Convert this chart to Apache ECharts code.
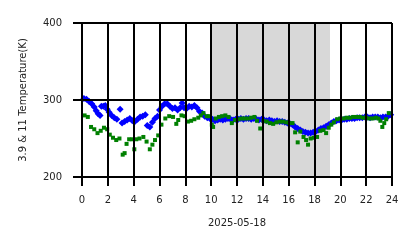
<!DOCTYPE html>
<html>
<head>
<meta charset="utf-8">
<script src="https://cdn.jsdelivr.net/npm/echarts@6/dist/echarts.min.js"></script>
<style>html,body{margin:0;padding:0;background:#fff}#c{width:418px;height:248px}</style>
</head>
<body>
<div id="c"></div>
<script>
var xTicks = [0,2,4,6,8,10,12,14,16,18,20,22,24];
var yTicks = [200,300,400];
var dateLabel = '2025-05-18';
var yName = '3.9 & 11 Temperature(K)';
var shadeStart = 10.0, shadeEnd = 19.2;

var blueT = [0.15,0.35,0.55,0.75,0.95,1.1,1.25,1.4,1.5,1.65,1.8,1.95,2.1,2.3,2.5,2.7,2.95,3.1,3.3,3.5,3.7,3.9,4.1,4.3,4.5,4.7,4.9,5.05,5.25,5.45,5.65,5.85,6.0,6.2,6.4,6.6,6.8,7.0,7.2,7.4,7.6,7.75,7.9,8.1,8.3,8.5,8.7,8.9,9.1,9.3,9.5,
  9.7,9.9,10.1,10.3,10.5,10.7,10.9,11.1,11.3,11.5,11.7,11.9,12.1,12.3,12.5,12.7,12.9,13.1,13.3,13.5,13.7,13.9,14.1,14.3,14.5,14.7,14.9,15.1,15.3,15.5,15.7,15.9,16.1,16.3,16.5,16.7,16.9,17.1,17.3,17.5,17.7,17.9,18.1,18.3,18.5,18.7,18.9,19.1,19.3,19.5,19.7,19.9,20.1,20.3,20.5,20.7,20.9,21.1,21.3,21.5,21.7,21.9,22.1,22.3,22.5,22.7,22.9,23.1,23.3,23.5,23.7,23.9];
var blueV = [302,301,298,295,291,286,282,280,292,292,293,288,284,280,277,275,288,270,272,274,276,273,272,275,278,279,281,267,265,271,276,279,287,292,295,295,292,289,290,287,290,296,290,289,292,291,293,290,285,283,279,
  277,276,275,273,274,275,274,275,276,275,274,275,275,276,275,276,276,275,276,275,274,275,274,273,274,273,272,273,272,272,271,270,269,268,265,263,261,259,258,257,257,258,259,261,263,264,266,268,270,272,273,274,274,275,275,276,276,276,277,277,277,278,278,277,278,278,278,277,278,278,279,281,283];

var greenT = [0.2,0.45,0.7,0.95,1.2,1.45,1.7,1.95,2.15,2.4,2.65,2.9,3.15,3.3,3.45,3.65,3.9,4.05,4.2,4.45,4.75,5.0,5.25,5.45,5.65,5.9,6.15,6.45,6.75,7.05,7.3,7.45,7.7,7.95,8.2,8.45,8.7,9.0,9.2,9.4,9.65,
  9.85,10.05,10.15,10.35,10.6,10.85,11.1,11.35,11.6,11.85,12.1,12.35,12.6,12.85,13.1,13.35,13.55,13.8,14.05,14.3,14.55,14.8,15.05,15.3,15.55,15.8,16.05,16.3,16.5,16.7,16.9,17.15,17.35,17.5,17.7,17.95,18.2,18.45,18.7,18.9,19.1,19.3,19.5,19.75,20.0,20.25,20.5,20.75,21.0,21.25,21.5,21.75,22.0,22.25,22.5,22.75,22.95,23.1,23.25,23.4,23.55,23.75];
var greenV = [280,278,265,262,257,260,264,262,255,251,248,250,229,231,243,249,249,236,249,250,252,246,236,242,248,254,268,276,279,278,269,274,280,279,272,273,275,277,280,283,279,
  279,268,265,276,278,279,280,278,270,274,275,276,276,276,277,278,273,263,273,272,270,269,271,272,272,271,270,270,258,245,259,252,248,242,250,251,252,260,261,257,264,268,271,275,276,276,277,277,278,278,278,277,277,276,276,277,276,273,265,270,275,283];

function pairs(t, v){ return t.map(function(x,i){ return [x, v[i]]; }); }

var chart = echarts.init(document.getElementById('c'), null, {renderer:'canvas'});
var txt = {color:'#222', fontSize:10, fontFamily:'DejaVu Sans'};
chart.setOption({
  animation:false,
  backgroundColor:'#fff',
  grid:{left:82,right:26,top:23,bottom:71},
  xAxis:{type:'value',min:0,max:24,interval:2,z:5,
    name:dateLabel,nameLocation:'middle',nameGap:41,nameTextStyle:txt,
    axisLine:{show:true,lineStyle:{color:'#000',width:2}},
    axisTick:{show:true,length:9,lineStyle:{color:'#000',width:2}},
    axisLabel:Object.assign({margin:18,formatter:function(v){return xTicks.indexOf(v)>=0?String(v):'';}},txt),
    splitLine:{show:true,lineStyle:{color:'#000',width:2}}},
  yAxis:{type:'value',min:200,max:400,interval:100,z:5,
    name:yName,nameLocation:'middle',nameGap:54,nameTextStyle:txt,
    axisLine:{show:true,lineStyle:{color:'#000',width:2}},
    axisTick:{show:true,length:9,lineStyle:{color:'#000',width:2}},
    axisLabel:Object.assign({margin:20,formatter:function(v){return yTicks.indexOf(v)>=0?String(v):'';}},txt),
    splitLine:{show:true,lineStyle:{color:'#000',width:2}}},
  series:[
    {type:'scatter',data:[],z:1,silent:true,
      markArea:{silent:true,itemStyle:{color:'#d8d8d8',opacity:1},data:[[{xAxis:shadeStart},{xAxis:shadeEnd}]]}},
    {type:'scatter',name:'3.9',data:pairs(blueT,blueV),symbol:'diamond',symbolSize:[7,7],z:3,
      itemStyle:{color:'#0000ff',opacity:1}},
    {type:'scatter',name:'11',data:pairs(greenT,greenV),symbol:'rect',symbolSize:4,z:4,
      itemStyle:{color:'#008000',opacity:1}}
  ]
});
</script>
</body>
</html>
